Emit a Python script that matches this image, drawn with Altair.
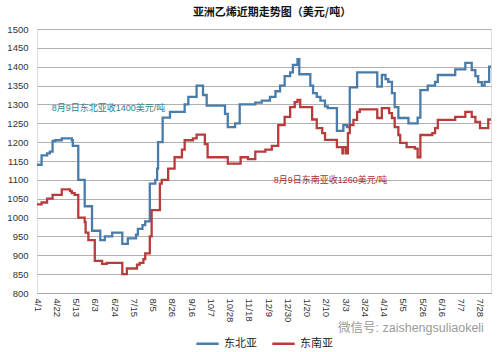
import altair as alt
import pandas as pd

# 东北亚 (NE Asia) step-change points
ne_dates = ["2017-04-01","2017-04-06","2017-04-12","2017-04-15","2017-04-18","2017-04-21","2017-04-28",
            "2017-05-09","2017-05-10","2017-05-16","2017-05-23","2017-05-31","2017-06-09","2017-06-14",
            "2017-06-22","2017-07-03","2017-07-09","2017-07-18","2017-07-20","2017-07-25","2017-07-28",
            "2017-08-02","2017-08-08","2017-08-10","2017-08-11","2017-08-16","2017-08-24","2017-09-09",
            "2017-09-13","2017-09-22","2017-09-29","2017-10-03","2017-10-23","2017-10-26","2017-11-03",
            "2017-11-08","2017-11-25","2017-12-02","2017-12-11","2017-12-17","2017-12-22","2017-12-27",
            "2018-01-02","2018-01-05","2018-01-10","2018-01-12","2018-01-24","2018-01-27","2018-01-31",
            "2018-02-04","2018-02-09","2018-02-12","2018-02-22","2018-03-01","2018-03-05","2018-03-08",
            "2018-03-16","2018-04-07","2018-04-12","2018-04-16","2018-04-19","2018-04-23","2018-04-26",
            "2018-04-30","2018-05-11","2018-05-21","2018-05-24","2018-06-01","2018-06-09","2018-06-12",
            "2018-07-01","2018-07-12","2018-07-19","2018-07-23","2018-07-26","2018-07-30","2018-08-02",
            "2018-08-07","2018-08-09"]
ne_values = [1140,1165,1170,1175,1203,1205,1210,
             1205,1190,1100,1030,965,940,950,
             960,930,945,955,970,980,990,
             1090,1100,1130,1200,1265,1280,1300,
             1320,1350,1325,1297,1275,1240,1250,
             1300,1305,1310,1320,1335,1350,1375,
             1385,1405,1420,1380,1350,1330,1320,
             1310,1295,1290,1230,1245,1240,1345,
             1385,1347,1378,1367,1360,1330,1293,
             1264,1250,1265,1338,1350,1360,1378,
             1393,1410,1391,1375,1359,1350,1360,
             1400,1400]

# 东南亚 (SE Asia) step-change points
se_dates = ["2017-04-01","2017-04-06","2017-04-12","2017-04-18","2017-04-28","2017-05-07","2017-05-09",
            "2017-05-12","2017-05-16","2017-05-23","2017-05-24","2017-05-27","2017-06-03","2017-06-11",
            "2017-06-16","2017-07-03","2017-07-08","2017-07-19","2017-07-22","2017-07-26","2017-07-28",
            "2017-08-02","2017-08-04","2017-08-13","2017-08-15","2017-08-22","2017-08-29","2017-09-06",
            "2017-09-09","2017-09-18","2017-09-22","2017-10-01","2017-10-04","2017-10-26","2017-11-09",
            "2017-11-17","2017-11-25","2017-12-06","2017-12-13","2017-12-20","2017-12-27","2018-01-02",
            "2018-01-07","2018-01-10","2018-01-13","2018-01-26","2018-01-31","2018-02-06","2018-02-09",
            "2018-02-22","2018-02-28","2018-03-01","2018-03-04","2018-03-06","2018-03-08","2018-03-12",
            "2018-03-16","2018-03-19","2018-04-07","2018-04-12","2018-04-20","2018-04-23","2018-04-26",
            "2018-04-30","2018-05-02","2018-05-09","2018-05-18","2018-05-21","2018-05-24","2018-06-06",
            "2018-06-09","2018-06-12","2018-07-01","2018-07-12","2018-07-19","2018-07-23","2018-07-28",
            "2018-08-06","2018-08-09"]
se_values = [1035,1040,1050,1060,1075,1070,1065,
             1060,1000,988,960,940,885,877,
             880,850,865,875,880,890,905,
             950,1020,1090,1100,1130,1160,1180,
             1205,1210,1220,1195,1160,1143,1160,
             1155,1175,1180,1190,1245,1267,1293,
             1306,1312,1293,1260,1237,1224,1206,
             1187,1170,1187,1170,1224,1245,1259,
             1280,1287,1264,1290,1277,1264,1240,
             1219,1198,1187,1183,1160,1219,1224,
             1237,1259,1267,1280,1267,1254,1237,
             1260,1260]

series_names = ["东北亚", "东南亚"]
tick_dates = pd.date_range("2017-04-01", periods=24, freq="21D")
y_ticks = list(range(800, 1501, 50))
note_texts = ["8月9日东北亚收1400美元/吨", "8月9日东南亚收1260美元/吨"]
note_dates = ["2017-04-17", "2017-12-15"]
note_values = [1290, 1100]

BLUE = "#4A7CAA"
RED = "#B83C3C"

df = pd.concat([
    pd.DataFrame({"date": ne_dates, "value": ne_values, "series": series_names[0]}),
    pd.DataFrame({"date": se_dates, "value": se_values, "series": series_names[1]}),
])

def ms(d):
    return int(pd.Timestamp(d).value // 10**6)

tick_ms = [ms(d) for d in tick_dates]
xscale = alt.Scale(type="utc", domain=[ms("2017-04-01"), ms("2018-08-09")])
yscale = alt.Scale(domain=[800, 1500], nice=False, zero=False)

xaxis = alt.Axis(values=tick_ms, labelExpr="utcFormat(datum.value, '%-m/%-d')", labelAngle=90,
                 labelAlign="left", labelBaseline="middle", grid=False, ticks=False,
                 domainColor="#a6a6a6", labelPadding=5, labelFontSize=9.5,
                 labelColor="#333333", title=None, labelOverlap=False)
yaxis = alt.Axis(values=y_ticks, grid=True, gridColor="#b0b0b0",
                 domain=False, ticks=False, labelPadding=9, labelFontSize=9.5,
                 labelColor="#333333", title=None, labelOverlap=False, format="d")

lines = alt.Chart(df).mark_line(interpolate="step-after", strokeWidth=2.3).encode(
    x=alt.X("date:T", scale=xscale, axis=xaxis),
    y=alt.Y("value:Q", scale=yscale, axis=yaxis),
    color=alt.Color("series:N", scale=alt.Scale(domain=series_names, range=[BLUE, RED]),
                    legend=alt.Legend(orient="none", legendX=158, legendY=302, direction="horizontal",
                                      symbolType="stroke", symbolSize=500, symbolStrokeWidth=2.5,
                                      labelFontSize=11, labelColor="#222222", columnPadding=10,
                                      title=None)),
)

notes_df = pd.DataFrame({"text": note_texts, "date": note_dates, "value": note_values,
                         "series": series_names})
notes = alt.Chart(notes_df).mark_text(align="left", baseline="middle", fontSize=9).encode(
    x=alt.X("date:T", scale=xscale, axis=xaxis),
    y=alt.Y("value:Q", scale=yscale, axis=yaxis),
    text="text:N",
    color=alt.Color("series:N", scale=alt.Scale(domain=series_names, range=["#2F7F90", "#B52A2A"]),
                    legend=None),
)

wm = alt.Chart(pd.DataFrame({"t": ["微信号: zaishengsuliaokeli"]})).mark_text(
    align="left", baseline="middle", fontSize=12.5, color="#9a9a9a").encode(
    x=alt.value(301), y=alt.value(299), text="t:N")

chart = alt.layer(lines, notes, wm).resolve_scale(color="independent").properties(
    width=454, height=264,
    autosize=alt.AutoSizeParams(type="none"),
    padding={"left": 37, "top": 29, "right": 8, "bottom": 59},
    title=alt.TitleParams("亚洲乙烯近期走势图（美元/吨）", fontSize=11, fontWeight="bold",
                          anchor="middle", dx=8, offset=6, color="#111111",
                          font="Noto Sans CJK SC"),
).configure_view(strokeWidth=0).configure(font="Liberation Sans, Noto Sans CJK SC")

chart.save("out.html", embed_options={"renderer": "svg", "actions": False})
